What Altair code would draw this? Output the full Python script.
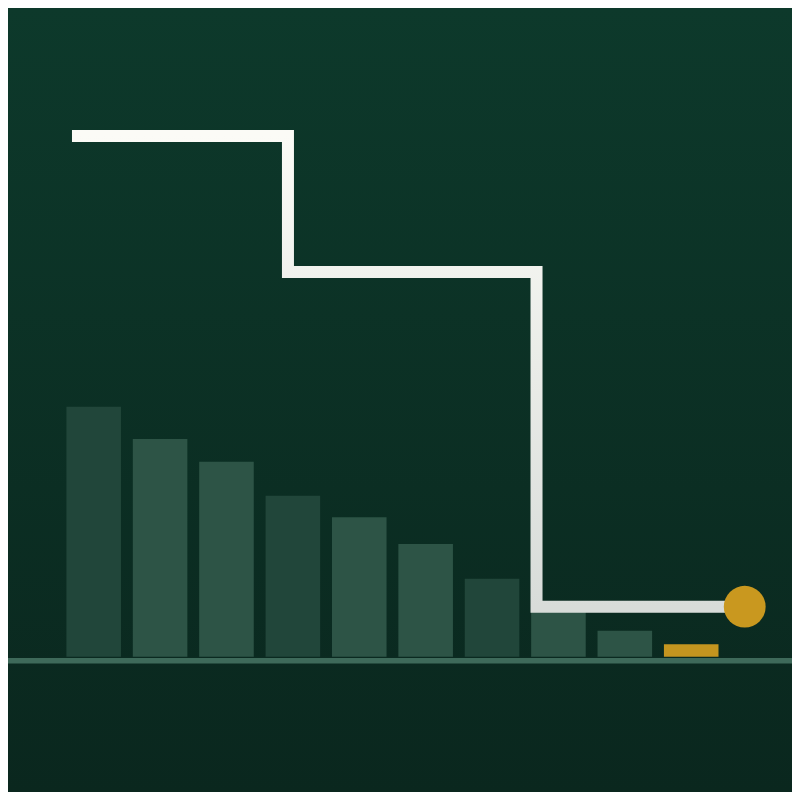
import altair as alt
import pandas as pd

# ---- data ----
bar_index = [1, 2, 3, 4, 5, 6, 7, 8, 9, 10]
bar_values = [100, 87.1, 78, 64.4, 55.8, 45.1, 31.2, 18.4, 10.4, 5.0]
bar_group = ["dark", "light", "light", "dark", "light", "light", "dark", "light", "light", "gold"]

step_x = [0.673, 3.926, 7.67, 10.806]
step_y = [208.3, 153.9, 20.0, 20.0]

end_x = [10.806]
end_y = [20.0]

X_MIN, X_MAX = -0.2907, 11.518
Y_MIN, Y_MAX = -54.12, 259.48

# ---- tables ----
half = 0.411
bars = pd.DataFrame({
    "x0": [i - half for i in bar_index],
    "x1": [i + half for i in bar_index],
    "v": bar_values,
    "zero": [0.0] * len(bar_index),
    "g": bar_group,
})
steps = pd.DataFrame({"x": step_x, "y": step_y})
endpt = pd.DataFrame({"x": end_x, "y": end_y})
frame = pd.DataFrame({"xa": [X_MIN], "xb": [X_MAX], "ya": [Y_MIN], "yb": [Y_MAX], "base": [0.0]})

xs = alt.Scale(domain=[X_MIN, X_MAX], nice=False, zero=False)
ys = alt.Scale(domain=[Y_MIN, Y_MAX], nice=False, zero=False)

bg = alt.Chart(frame).mark_rect(
    fill=alt.Gradient(
        gradient="linear",
        stops=[alt.GradientStop(color="#0d392b", offset=0),
               alt.GradientStop(color="#0a271e", offset=1)],
        x1=0, x2=0, y1=0, y2=1,
    )
).encode(
    x=alt.X("xa:Q", scale=xs, axis=None), x2="xb:Q",
    y=alt.Y("ya:Q", scale=ys, axis=None), y2="yb:Q",
)

bar_layer = alt.Chart(bars).mark_rect().encode(
    x=alt.X("x0:Q", scale=xs, axis=None),
    x2="x1:Q",
    y=alt.Y("v:Q", scale=ys, axis=None),
    y2="zero:Q",
    color=alt.Color("g:N", scale=alt.Scale(domain=["dark", "light", "gold"],
                                           range=["#21463a", "#2d5446", "#c4951f"]),
                    legend=None),
)

baseline = alt.Chart(frame).mark_rule(color="#3e6a5a", strokeWidth=5.5, yOffset=4).encode(
    x=alt.X("xa:Q", scale=xs, axis=None), x2="xb:Q",
    y=alt.Y("base:Q", scale=ys, axis=None),
)

line = alt.Chart(steps).mark_line(
    interpolate="step-after",
    strokeWidth=12,
    strokeJoin="miter",
    strokeCap="butt",
    stroke=alt.Gradient(
        gradient="linear",
        stops=[alt.GradientStop(color="#fbfbf6", offset=0),
               alt.GradientStop(color="#d8dcd9", offset=1)],
        x1=0, x2=0, y1=0, y2=1,
    ),
).encode(
    x=alt.X("x:Q", scale=xs, axis=None),
    y=alt.Y("y:Q", scale=ys, axis=None),
)

dot = alt.Chart(endpt).mark_circle(color="#c9981f", opacity=1, size=1750).encode(
    x=alt.X("x:Q", scale=xs, axis=None),
    y=alt.Y("y:Q", scale=ys, axis=None),
)

chart = alt.layer(bg, bar_layer, baseline, line, dot).properties(
    width=784, height=784, padding=0, autosize="none", background="#0c3027"
).configure_view(stroke=None)

chart.save("out.html", embed_options={"renderer": "svg", "actions": False})
